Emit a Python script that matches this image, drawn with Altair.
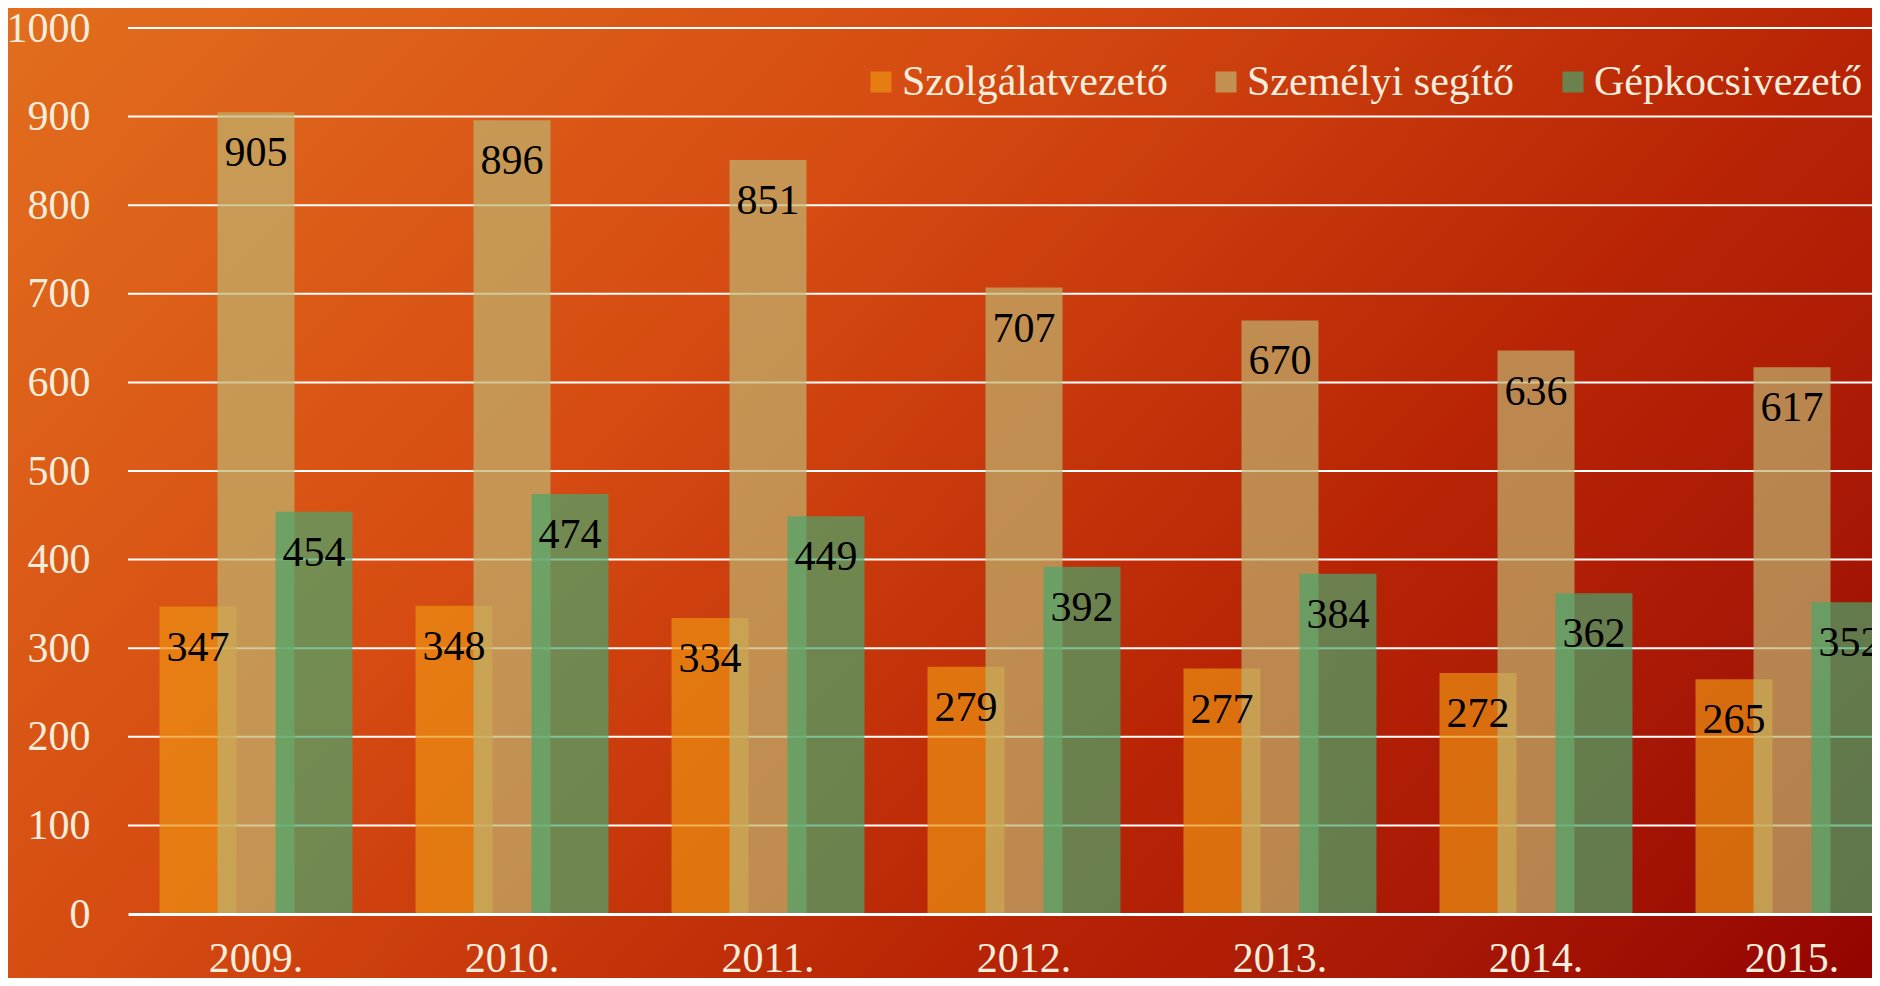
import altair as alt
import pandas as pd

# ---- data ----
years = ["2009.", "2010.", "2011.", "2012.", "2013.", "2014.", "2015."]
series = ["Szolgálatvezető", "Személyi segítő", "Gépkocsivezető"]
szolgalatvezeto = [347, 348, 334, 279, 277, 272, 265]
szemelyi_segito = [905, 896, 851, 707, 670, 636, 617]
gepkocsivezeto = [454, 474, 449, 392, 384, 362, 352]
y_ticks = [0, 100, 200, 300, 400, 500, 600, 700, 800, 900, 1000]

# ---- styles ----
colors = ["#ed9113", "#bfb36f", "#49a66c"]
offsets = [-58, 0, 58]
FONT = "Liberation Serif"
CREAM = "#f4eddb"
PLOT_W, PLOT_H = 1744, 886

rows = []
for s, vals in zip(series, [szolgalatvezeto, szemelyi_segito, gepkocsivezeto]):
    for yr, v in zip(years, vals):
        rows.append({"year": yr, "series": s, "value": v})
df = pd.DataFrame(rows)

yscale = alt.Scale(domain=[0, 1000], nice=False, zero=True)
y_axis = alt.Axis(title=None, labelFont=FONT, labelFontSize=42, labelColor=CREAM,
                  labelPadding=38, ticks=False, tickSize=0, domain=False, grid=False,
                  values=y_ticks, format="d", zindex=1)
x_axis = alt.Axis(title=None, labelFont=FONT, labelFontSize=42, labelColor=CREAM,
                  labelPadding=24, ticks=False, tickSize=0, domainColor="white",
                  domainWidth=3, labelAngle=0, grid=False, zindex=1)
xenc = alt.X("year:N", sort=years,
             scale=alt.Scale(domain=years, range=[0, 1792], paddingInner=0, paddingOuter=0),
             axis=x_axis)

gradient = alt.LinearGradient(
    gradient="linear",
    stops=[alt.GradientStop(offset=0, color="#e26e1e"),
           alt.GradientStop(offset=0.35, color="#d64c12"),
           alt.GradientStop(offset=0.667, color="#b82405"),
           alt.GradientStop(offset=0.833, color="#a81806"),
           alt.GradientStop(offset=1, color="#940400")],
    x1=0, y1=0, x2=1.2, y2=0.6)

bg = alt.Chart(pd.DataFrame({"bg": [0]})).mark_rect(fill=gradient, strokeWidth=0).encode(
    x=alt.value(-120), x2=alt.value(PLOT_W), y=alt.value(-20), y2=alt.value(PLOT_H + 64))

shadow_fill = alt.RadialGradient(
    gradient="radial",
    stops=[alt.GradientStop(offset=0, color="rgba(120,25,0,0.75)"),
           alt.GradientStop(offset=1, color="rgba(120,25,0,0)")],
    x1=0.65, y1=0, r1=0, x2=0.65, y2=0, r2=0.5)
shadow = alt.Chart(pd.DataFrame({"s": [0]})).mark_rect(fill=shadow_fill, strokeWidth=0).encode(
    x=alt.value(1150), x2=alt.value(1500), y=alt.value(-20), y2=alt.value(20))

rules = alt.Chart(pd.DataFrame({"tick": y_ticks[1:]})).mark_rule(
    color="white", strokeWidth=2).encode(
    y=alt.Y("tick:Q", scale=yscale, axis=y_axis),
    x=alt.value(0), x2=alt.value(PLOT_W))

legend = alt.Legend(title=None, orient="none", legendX=732, legendY=33,
                    direction="horizontal", padding=0, columnPadding=37, labelOffset=0,
                    labelFont=FONT, labelFontSize=42, labelColor=CREAM, labelLimit=0,
                    symbolType="square", symbolSize=441, symbolStrokeWidth=0,
                    symbolOpacity=0.7)

bars, texts = [], []
for s, off in zip(series, offsets):
    base = alt.Chart(df).transform_filter(alt.datum.series == s)
    bars.append(base.mark_bar(width=77, xOffset=off, opacity=0.7).encode(
        x=xenc,
        y=alt.Y("value:Q", scale=yscale, axis=y_axis),
        color=alt.Color("series:N", scale=alt.Scale(domain=series, range=colors),
                        legend=legend)))
    texts.append(base.mark_text(xOffset=off, dy=54, font=FONT, fontSize=42,
                                color="black", baseline="alphabetic", align="center").encode(
        x=xenc,
        y=alt.Y("value:Q", scale=yscale, axis=y_axis),
        text="value:Q"))

chart = alt.layer(bg, shadow, rules, *bars, *texts).properties(
    width=PLOT_W, height=PLOT_H,
    padding={"left": 120, "top": 20, "right": 0, "bottom": 64},
    autosize=alt.AutoSizeParams(type="none"),
    background="#c8390b",
).configure_view(stroke=None)

chart.save("out.html", embed_options={"renderer": "svg", "actions": False})
